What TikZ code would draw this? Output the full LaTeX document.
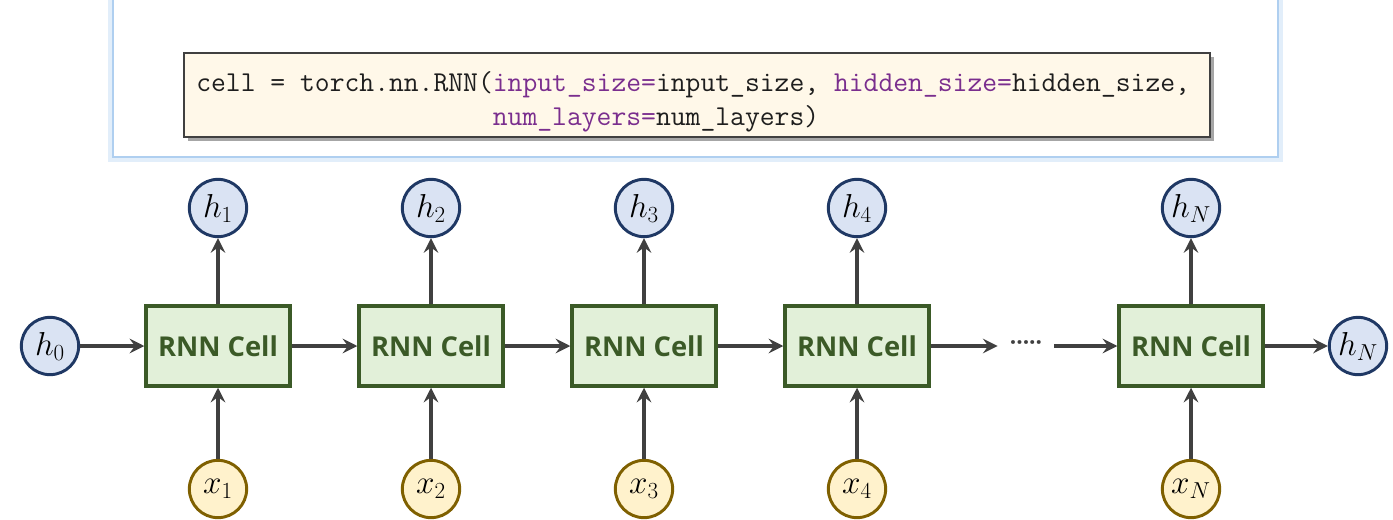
\documentclass[tikz,border=0pt]{standalone}
\usepackage{fontspec}
\newfontfamily\cellfont{Open Sans}
\usetikzlibrary{arrows.meta}
\definecolor{panelblue}{HTML}{AFCFF0}
\definecolor{panelglow}{HTML}{E2EEFA}
\definecolor{cream}{HTML}{FFF8E9}
\definecolor{codeborder}{HTML}{404040}
\definecolor{kwpurple}{HTML}{7A2E8E}
\definecolor{codeblack}{HTML}{1E1E1E}
\definecolor{cellfill}{HTML}{E2F0D9}
\definecolor{cellline}{HTML}{3B5A27}
\definecolor{hfill}{HTML}{DAE3F3}
\definecolor{hline}{HTML}{1F3864}
\definecolor{xfill}{HTML}{FFF2CC}
\definecolor{xline}{HTML}{7F6000}
\definecolor{arrowgray}{HTML}{404040}
\tikzset{
  cellbox/.style={rectangle, draw=cellline, fill=cellfill, line width=2.6pt,
    minimum width=108pt, minimum height=60pt, inner sep=0pt,
    text=cellline, font=\cellfont\bfseries\fontsize{20.5}{22}\selectfont},
  hnode/.style={circle, draw=hline, fill=hfill, line width=2.2pt,
    minimum size=43pt, inner sep=0pt, font=\fontsize{24.88}{27}\selectfont},
  xnode/.style={circle, draw=xline, fill=xfill, line width=2.2pt,
    minimum size=43pt, inner sep=0pt, font=\fontsize{24.88}{27}\selectfont},
  arr/.style={draw=arrowgray, line width=2.3pt,
    -{Stealth[length=11pt,width=11pt,inset=4pt]}},
  codetext/.style={anchor=base west, inner sep=0pt, text=codeblack,
    font=\ttfamily\fontsize{21.6}{24}\selectfont},
}
\newcommand{\kw}[1]{\textcolor{kwpurple}{#1}}
\newcommand{\lbl}[2]{$#1_{\scriptscriptstyle #2}$}
\begin{document}
\begin{tikzpicture}[x=0.75pt,y=-0.75pt]
\useasboundingbox (0,0) rectangle (1393,519);
\fill[white] (0,0) rectangle (1393,519);
% panel
\draw[panelglow, line width=7pt] (113,-10) rectangle (1278,157);
\draw[panelblue, line width=1.5pt, fill=white] (113,-10) rectangle (1278,157);
% code box
\fill[black!35] (188,57) rectangle (1214,141);
\draw[codeborder, line width=1.2pt, fill=cream] (184,53) rectangle (1210,137);
\node[codetext] (code1) at (196,91) {cell = torch.nn.RNN(\kw{input\_size=}input\_size, \kw{hidden\_size=}hidden\_size,};
\node[codetext] (code2) at (196,125) {\phantom{cell = torch.nn.RNN(}\kw{num\_layers=}num\_layers)};
% cells
\node[cellbox] (c1) at (218,346) {RNN Cell};
\node[cellbox] (c2) at (431,346) {RNN Cell};
\node[cellbox] (c3) at (644,346) {RNN Cell};
\node[cellbox] (c4) at (857,346) {RNN Cell};
\node[cellbox] (cN) at (1191,346) {RNN Cell};
% hidden outputs
\node[hnode] (h1) at (218,208) {\lbl{h}{1}};
\node[hnode] (h2) at (431,208) {\lbl{h}{2}};
\node[hnode] (h3) at (644,208) {\lbl{h}{3}};
\node[hnode] (h4) at (857,208) {\lbl{h}{4}};
\node[hnode] (hN) at (1191,208) {\lbl{h}{N}};
\node[hnode] (h0) at (50,346) {\lbl{h}{0}};
\node[hnode] (hNr) at (1358,346) {\lbl{h}{N}};
% inputs
\node[xnode] (x1) at (218,489) {\lbl{x}{1}};
\node[xnode] (x2) at (431,489) {\lbl{x}{2}};
\node[xnode] (x3) at (644,489) {\lbl{x}{3}};
\node[xnode] (x4) at (857,489) {\lbl{x}{4}};
\node[xnode] (xN) at (1191,489) {\lbl{x}{N}};
% dots
\node[inner xsep=9pt, inner ysep=0pt, text=arrowgray, font=\cellfont\bfseries\fontsize{17}{17}\selectfont] (dots) at (1026,346) {·····};
% connectors
\foreach \i in {1,2,3,4,N} {
  \draw[arr] (c\i) -- (h\i);
  \draw[arr] (x\i) -- (c\i);
}
\draw[arr] (h0) -- (c1);
\draw[arr] (c1) -- (c2);
\draw[arr] (c2) -- (c3);
\draw[arr] (c3) -- (c4);
\draw[arr] (c4) -- (dots);
\draw[arr] (dots) -- (cN);
\draw[arr] (cN) -- (hNr);
\end{tikzpicture}
\end{document}
